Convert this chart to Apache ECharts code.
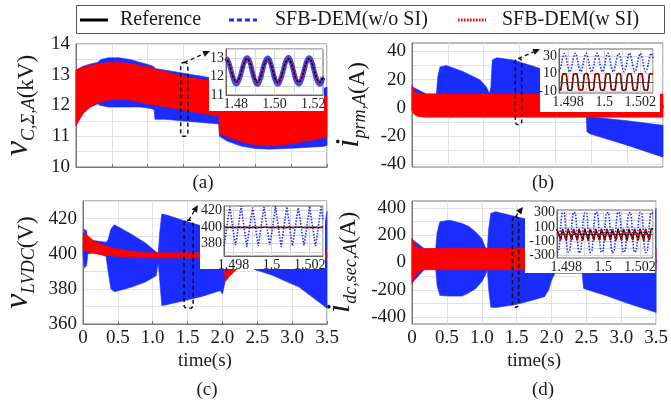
<!DOCTYPE html>
<html>
<head>
<meta charset="utf-8">
<script src="https://cdn.jsdelivr.net/npm/echarts@6/dist/echarts.min.js"></script>
<style>
  html, body { margin: 0; padding: 0; background: #fff; }
  #chart { width: 671px; height: 406px; }
</style>
</head>
<body>
<div id="chart"></div>
<script>
// ---------- series names ----------
const NAME_REF  = 'Reference';
const NAME_NOSI = 'SFB-DEM(w/o SI)';
const NAME_SI   = 'SFB-DEM(w SI)';

// ---------- main panels: envelopes (min / max) of the switching waveforms, time in s ----------
// (a) arm capacitor voltage sum, kV
const tA_si    = [0, 0.05, 0.1, 0.2, 0.3, 0.45, 0.6, 0.75, 1.0, 1.25, 1.5, 1.75, 1.99, 2.0, 2.1, 2.3, 2.5, 2.7, 2.9, 3.1, 3.3, 3.5];
const hiA_si   = [13.15, 13.2, 13.25, 13.3, 13.35, 13.4, 13.4, 13.37, 13.25, 13.1, 12.95, 12.85, 12.75, 12.2, 12.15, 12.15, 12.15, 12.18, 12.2, 12.22, 12.25, 12.3];
const loA_si   = [11.35, 11.55, 11.75, 11.95, 12.08, 12.17, 12.2, 12.18, 12.05, 11.95, 11.85, 11.75, 11.65, 11.1, 10.98, 10.82, 10.72, 10.68, 10.72, 10.8, 10.88, 10.97];
const tA_nosi  = [0, 0.05, 0.1, 0.2, 0.3, 0.35, 0.45, 0.6, 0.75, 0.9, 1.05, 1.09, 1.1, 1.25, 1.5, 1.75, 1.99, 2.0, 2.1, 2.3, 2.5, 2.7, 2.9, 3.1, 3.3, 3.45, 3.5];
const hiA_nosi = [13.15, 13.22, 13.28, 13.35, 13.4, 13.5, 13.55, 13.55, 13.5, 13.4, 13.3, 13.25, 13.2, 13.15, 13.05, 12.95, 12.85, 12.3, 12.3, 12.3, 12.3, 12.35, 12.4, 12.45, 12.5, 12.55, 12.6];
const loA_nosi = [11.35, 11.55, 11.75, 11.95, 12.05, 12.0, 11.95, 11.95, 11.95, 11.95, 11.9, 11.85, 11.55, 11.55, 11.5, 11.45, 11.4, 11.0, 10.85, 10.68, 10.6, 10.58, 10.6, 10.62, 10.65, 10.67, 10.7];

// (b) primary current, A
const tB_si    = [0, 0.02, 0.05, 0.1, 0.2, 3.5];
const hiB_si   = [16, 13, 11, 10, 9.8, 9.8];
const loB_si   = [-2, -4, -5.5, -6.3, -6.7, -6.7];
const tB_nosi  = [0, 0.2, 0.34, 0.36, 0.39, 0.48, 0.71, 0.95, 1.04, 1.08, 1.1, 1.12, 1.18, 1.41, 1.78, 1.99, 2.0, 2.43, 2.44, 2.48, 3.0, 3.5];
const hiB_nosi = [15, 9.8, 9.8, 22, 29, 30, 25.7, 19.8, 14.6, 10, 15, 34, 35.5, 34, 28, 25, 9.5, 9.5, -6, -6.3, -9.2, -12.4];
const loB_nosi = [-2, -6, -6, -6, -6, -6, -6, -6, -6, -6, -6, -6, -6, -6, -6, -6, -6, -6, -17, -18.4, -26.5, -35];

// (c) LVDC voltage, V
const tC_si    = [0, 0.03, 0.08, 0.15, 0.25, 0.4, 0.6, 0.8, 1.0, 1.99, 2.0, 2.03, 2.05, 2.1, 2.2, 2.35, 2.5, 2.7, 3.5];
const hiC_si   = [412, 411, 410, 407.5, 405.5, 403.5, 402, 401, 400.5, 400.5, 400, 392, 389, 391, 394, 398, 400, 400.5, 400.5];
const loC_si   = [402, 401.5, 401, 400.3, 399.5, 398.8, 398.2, 397.7, 397.5, 397.5, 395, 388, 384.5, 387, 391, 395, 397, 397.5, 397.5];
const tC_nosi  = [0, 0.02, 0.05, 0.07, 0.15, 0.25, 0.33, 0.36, 0.4, 0.45, 0.7, 0.9, 1.05, 1.08, 1.1, 1.13, 1.2, 1.45, 1.73, 1.97, 2.0, 2.05, 2.2, 2.44, 2.46, 2.7, 3.1, 3.45, 3.5];
const hiC_nosi = [404, 414, 413, 407.5, 407.5, 407, 406.5, 408, 414, 416.5, 411, 406, 401, 400.5, 412, 422.6, 422, 418.8, 415.5, 412.5, 400, 399, 400, 400, 397, 400, 406, 412, 424];
const loC_nosi = [400, 392, 393, 400, 400.5, 399.5, 398.5, 390, 380, 378.3, 381, 384, 387.5, 395, 385, 370.5, 371, 373.3, 376, 379, 377, 386, 392, 393, 391, 388, 381, 370.5, 369];

// (d) secondary dc current, A
const tD_si    = [0, 0.03, 0.07, 0.12, 0.18, 3.5];
const hiD_si   = [180, 140, 115, 105, 102, 102];
const loD_si   = [-160, -120, -80, -60, -53, -53];
const tD_nosi  = [0, 0.18, 0.34, 0.36, 0.4, 0.54, 0.72, 0.82, 0.91, 1.0, 1.05, 1.08, 1.1, 1.13, 1.2, 1.47, 1.66, 1.9, 1.96, 2.0, 2.05, 2.44, 2.46, 2.8, 3.1, 3.5];
const hiD_nosi = [170, 100, 100, 220, 298, 310, 285, 261, 225, 175, 114, 100, 250, 360, 372, 338, 315, 280, 260, 150, 100, 100, 200, 260, 320, 396];
const loD_nosi = [-150, -50, -50, -170, -241, -246, -246, -220, -192, -140, -94, -55, -200, -327, -330, -310, -285, -250, -200, -130, -78, -78, -190, -245, -300, -365];

// ---------- zoomed windows around t = 1.5 s ----------
const tInA = [1.4750, 1.4763, 1.4777, 1.4790, 1.4803, 1.4817, 1.4831, 1.4845, 1.4859, 1.4872, 1.4885, 1.4898, 1.4912,
              1.4925, 1.4938, 1.4951, 1.4965, 1.4978, 1.4991, 1.5004, 1.5018, 1.5031, 1.5045, 1.5058, 1.5072, 1.5085,
              1.5098, 1.5111, 1.5125, 1.5138, 1.5152, 1.5165, 1.5179, 1.5192, 1.5205, 1.5218, 1.5232, 1.5250];
const siInA   = [12.96, 12.78, 12.33, 11.88, 11.69, 11.87, 12.32, 12.77, 12.97, 12.79, 12.34, 11.89, 11.68, 11.88, 12.33, 12.78,
                 12.96, 12.78, 12.32, 11.87, 11.67, 11.88, 12.34, 12.79, 12.97, 12.77, 12.33, 11.88, 11.69, 11.88, 12.33, 12.78,
                 12.98, 12.78, 12.33, 11.88, 11.68, 12.0];
const nosiInA = [13.02, 12.8, 12.3, 11.82, 11.6, 11.83, 12.31, 12.81, 13.03, 12.82, 12.3, 11.81, 11.58, 11.82, 12.32, 12.8,
                 13.01, 12.79, 12.29, 11.8, 11.59, 11.84, 12.33, 12.82, 13.04, 12.8, 12.3, 11.82, 11.6, 11.81, 12.31, 12.81,
                 13.02, 12.8, 12.3, 11.83, 11.59, 11.95];
const refInA  = siInA;

const tIn = [1.4975, 1.4976, 1.4977, 1.4978, 1.4979, 1.4980, 1.4981, 1.4982, 1.4983, 1.4984, 1.4985, 1.4986, 1.4987, 1.4988,
             1.4989, 1.4990, 1.4991, 1.4992, 1.4993, 1.4994, 1.4995, 1.4996, 1.4997, 1.4998, 1.4999, 1.5000, 1.5001, 1.5002,
             1.5003, 1.5004, 1.5005, 1.5006, 1.5007, 1.5008, 1.5009, 1.5010, 1.5011, 1.5012, 1.5013, 1.5014, 1.5015, 1.5016,
             1.5017, 1.5018, 1.5019, 1.5020, 1.5021, 1.5022, 1.5023, 1.5024, 1.5025, 1.5026, 1.5027];
const nosiInB = [12.3, 17.5, 27.6, 32.8, 27.9, 17.1, 12.0, 17.4, 27.8, 33.2, 27.5, 17.2, 12.4, 17.6, 27.7, 32.9, 27.8, 17.3,
                 11.9, 17.2, 27.5, 33.1, 27.9, 17.5, 12.2, 17.3, 27.9, 33.0, 27.6, 17.1, 12.1, 17.6, 27.6, 32.7, 27.8, 17.4,
                 12.3, 17.2, 27.8, 33.3, 27.6, 17.3, 12.0, 17.5, 27.7, 32.9, 27.9, 17.2, 12.2, 17.4, 27.6, 33.0, 27.8];
const siInB   = [-8.8, -8.5, 8.8, 10.0, 9.2, -8.2, -8.9, -8.4, 8.9, 9.9, 9.3, -8.1, -8.7, -8.6, 8.7, 10.1, 9.1, -8.3,
                 -8.9, -8.4, 8.8, 10.0, 9.2, -8.2, -8.8, -8.5, 8.9, 9.9, 9.3, -8.2, -8.7, -8.5, 8.8, 10.1, 9.2, -8.3,
                 -8.9, -8.4, 8.7, 10.0, 9.1, -8.1, -8.8, -8.6, 8.9, 9.9, 9.3, -8.2, -8.8, -8.5, 8.8, 10.0, 9.2];
const refInB  = siInB;
const nosiInC = [377, 392, 408, 424, 409, 393, 378, 391, 409, 425, 408, 392, 376, 393, 408, 423, 409, 392,
                 377, 392, 409, 424, 408, 393, 378, 391, 408, 425, 409, 392, 376, 392, 409, 424, 408, 391,
                 377, 393, 408, 423, 409, 392, 378, 392, 409, 425, 408, 393, 377, 391, 408, 424, 409];
const siInC   = [399.4, 400.7, 399.3, 400.6, 399.5, 400.8, 399.3, 400.6, 399.4, 400.7, 399.2, 400.6, 399.5, 400.7, 399.3, 400.8,
                 399.4, 400.6, 399.3, 400.7, 399.5, 400.6, 399.4, 400.8, 399.2, 400.6, 399.4, 400.7, 399.3, 400.7, 399.5, 400.6,
                 399.3, 400.8, 399.4, 400.6, 399.3, 400.7, 399.4, 400.6, 399.5, 400.7, 399.3, 400.8, 399.4, 400.6, 399.2, 400.7,
                 399.4, 400.6, 399.3, 400.7, 399.5];
const refInC  = siInC;
const nosiInD = [-262, -228, 118, 302, 296, -58, -255, -235, 125, 305, 290, -65, -268, -222, 112, 298, 299, -50,
                 -260, -230, 120, 303, 294, -60, -258, -226, 116, 300, 297, -55, -265, -232, 122, 306, 292, -62,
                 -261, -227, 119, 301, 295, -57, -256, -233, 114, 304, 291, -63, -263, -229, 121, 302, 296];
const siInD   = [72, 74, -88, 71, 75, -92, 73, 74, -85, 72, 76, -90, 71, 74, -87, 73, 75, -91, 72, 74, -86, 71, 76, -89,
                 73, 74, -92, 72, 75, -86, 71, 74, -90, 73, 76, -88, 72, 74, -91, 71, 75, -85, 73, 74, -89, 72, 76, -92,
                 71, 74, -87, 72, 75];
const refInD  = siInD;

// zoom markers drawn on the main panels: [t from, t to, value from, value to]
const zoomBoxes = [
  [1.46, 1.56, 11.0, 13.4],
  [1.44, 1.53, -12, 35],
  [1.45, 1.58, 369, 419],
  [1.44, 1.53, -327, 335]
];

// ---------- styling ----------
const SERIF = 'Liberation Serif';
const BLUE = '#1a2cff';
const RED = '#ff0000';
const GRID_C = '#e2e2e2';
const INSET_GRID_C = '#d8d8d8';
const NONE = 'rgba(0,0,0,0)';
const TXT = '#1a1a1a';

const chart = echarts.init(document.getElementById('chart'));

// filled band between a lower and an upper envelope
function band(name, idx, t, lo, hi, color, z) {
  return {
    type: 'custom', name: name, xAxisIndex: idx, yAxisIndex: idx, z: z,
    silent: true, animation: false,
    itemStyle: { color: color },
    data: t.map((x, i) => [x, lo[i], hi[i]]),
    encode: { x: 0, y: [1, 2] },
    renderItem: function (params, api) {
      if (params.dataIndex !== 0) return null;
      const pts = [];
      for (let i = 0; i < t.length; i++) pts.push(api.coord([t[i], hi[i]]));
      for (let i = t.length - 1; i >= 0; i--) pts.push(api.coord([t[i], lo[i]]));
      return {
        type: 'polygon',
        shape: { points: echarts.graphic.clipPointsByRect(pts, params.coordSys) },
        style: { fill: color, stroke: color, lineWidth: 0.6 }
      };
    }
  };
}

function insetLine(name, idx, t, v, style, z, smooth) {
  return {
    type: 'line', name: name, xAxisIndex: idx, yAxisIndex: idx, z: z,
    data: t.map((x, i) => [x, v[i]]),
    symbol: 'none', showSymbol: false, silent: true, animation: false,
    smooth: smooth, lineStyle: style, itemStyle: { color: style.color }
  };
}

const nameRich = {
  v: { fontFamily: SERIF, fontStyle: 'italic', fontSize: 34, lineHeight: 40, verticalAlign: 'middle', color: TXT },
  s: { fontFamily: SERIF, fontStyle: 'italic', fontSize: 18, lineHeight: 18, verticalAlign: 'bottom', color: TXT },
  u: { fontFamily: SERIF, fontSize: 23, lineHeight: 34, verticalAlign: 'bottom', color: TXT }
};

function mainX(idx, showLabels) {
  return {
    type: 'value', gridIndex: idx, min: 0, max: 3.5, interval: 0.5,
    axisLine: { lineStyle: { color: '#777' } },
    axisTick: { show: true, inside: true, length: 3, lineStyle: { color: '#777' } },
    axisLabel: {
      show: showLabels, fontFamily: SERIF, fontSize: 19, color: TXT, margin: 5,
      formatter: v => (v === 0 ? '0' : v.toFixed(1))
    },
    splitLine: { show: true, lineStyle: { color: GRID_C, width: 1 } },
    name: showLabels ? 'time(s)' : '', nameLocation: 'middle', nameGap: 28,
    nameTextStyle: { fontFamily: SERIF, fontSize: 19, color: TXT }
  };
}

function mainY(idx, min, max, interval, labelFn, lineColors, name, gap) {
  return {
    type: 'value', gridIndex: idx, min: min, max: max, interval: interval,
    axisLine: { lineStyle: { color: '#777' } },
    axisTick: { show: false },
    axisLabel: { fontFamily: SERIF, fontSize: 19, color: TXT, margin: 6, formatter: labelFn },
    splitLine: { show: true, lineStyle: { color: lineColors, width: 1 } },
    name: name, nameLocation: 'middle', nameRotate: 90, nameGap: gap,
    nameTextStyle: { rich: nameRich }
  };
}

function insetX(idx, min, max, interval, labelFn) {
  return {
    type: 'value', gridIndex: idx, min: min, max: max, interval: interval, z: 10,
    axisLine: { lineStyle: { color: '#666' } },
    axisTick: { show: false },
    axisLabel: { fontFamily: SERIF, fontSize: 14, color: TXT, margin: 2, formatter: labelFn },
    splitLine: { show: true, lineStyle: { color: [NONE, INSET_GRID_C] } }
  };
}

function insetY(idx, min, max, interval, labelFn, lineColors) {
  return {
    type: 'value', gridIndex: idx, min: min, max: max, interval: interval, z: 10,
    axisLine: { lineStyle: { color: '#666' } },
    axisTick: { show: false },
    axisLabel: { fontFamily: SERIF, fontSize: 14, color: TXT, margin: 2, formatter: labelFn },
    splitLine: { show: true, lineStyle: { color: lineColors } }
  };
}

const fmtMs = v => { const r = Math.round(v * 10000); return r % 20 === 0 ? String(r / 10000) : ''; };

// dash / dot pattern icons for the legend
function dashIcon(on, off, w, h) {
  let p = 'path://';
  for (let x = 0; x < w; x += on + off) {
    const e = Math.min(x + on, w);
    p += 'M' + x + ',0H' + e + 'V' + h + 'H' + x + 'Z';
  }
  return p;
}

function legendItem(name, left, icon, color, pad) {
  return {
    data: [{ name: name, icon: icon, itemStyle: { color: color } }],
    left: left, top: 10, padding: 0, itemWidth: 28, itemHeight: 3,
    selectedMode: false,
    textStyle: { fontFamily: SERIF, fontSize: 20, color: TXT, padding: [0, 0, 0, pad] }
  };
}

const option = {
  animation: false,
  textStyle: { fontFamily: SERIF },
  legend: [
    legendItem(NAME_REF, 80, dashIcon(28, 0, 28, 3), '#000', 7),
    legendItem(NAME_NOSI, 229, dashIcon(5, 3, 28, 3), BLUE, 13),
    legendItem(NAME_SI, 458, dashIcon(1.6, 1.4, 28, 3), RED, 11)
  ],
  grid: [
    { left: 76, top: 44, width: 251, height: 123, show: true, borderColor: '#777', borderWidth: 1 },
    { left: 412, top: 43, width: 251, height: 124, show: true, borderColor: '#777', borderWidth: 1 },
    { left: 76, top: 201, width: 251, height: 123, show: true, borderColor: '#777', borderWidth: 1 },
    { left: 412, top: 201, width: 250, height: 123, show: true, borderColor: '#777', borderWidth: 1 },
    { left: 226, top: 49, width: 97, height: 46, show: true, backgroundColor: '#fff', borderColor: '#666', borderWidth: 1, z: 10 },
    { left: 559, top: 49, width: 94, height: 44, show: true, backgroundColor: '#fff', borderColor: '#666', borderWidth: 1, z: 10 },
    { left: 224, top: 206, width: 99, height: 50, show: true, backgroundColor: '#fff', borderColor: '#666', borderWidth: 1, z: 10 },
    { left: 557, top: 210, width: 96, height: 48, show: true, backgroundColor: '#fff', borderColor: '#666', borderWidth: 1, z: 10 }
  ],
  xAxis: [
    mainX(0, false), mainX(1, false), mainX(2, true), mainX(3, true),
    insetX(4, 1.475, 1.525, 0.005, v => (Math.round(v * 1000) % 20 === 0 ? v.toFixed(2) : '')),
    insetX(5, 1.4975, 1.5027, 0.0005, fmtMs),
    insetX(6, 1.4975, 1.5027, 0.0005, fmtMs),
    insetX(7, 1.4975, 1.5027, 0.0005, fmtMs)
  ],
  yAxis: [
    mainY(0, 10, 14, 0.5, v => (Number.isInteger(v) ? String(v) : ''), GRID_C,
          '{v|v}{s|C,Σ,A}{u|(kV)}', 38),
    mainY(1, -42, 46, 2, v => (v % 20 === 0 ? String(v) : ''), [NONE, GRID_C, NONE, NONE, NONE],
          '{v|i}{s|prm,A}{u|(A)}', 43),
    mainY(2, 360, 430, 10, v => (v % 20 === 0 && v < 430 ? String(v) : ''), GRID_C,
          '{v|v}{s|LVDC}{u|(V)}', 45),
    mainY(3, -450, 450, 50, v => (v % 200 === 0 ? String(v) : ''), [NONE, GRID_C],
          '{v|i}{s|dc,sec,A}{u|(A)}', 52),
    insetY(4, 11, 13.5, 0.5, v => (Number.isInteger(v) ? String(v) : ''), INSET_GRID_C),
    insetY(5, -12, 38, 2, v => ((v + 10) % 20 === 0 ? String(v) : ''), [NONE, INSET_GRID_C, NONE, NONE, NONE]),
    insetY(6, 365, 425, 5, v => (v % 20 === 0 && v >= 380 && v <= 420 ? String(v) : ''), [NONE, INSET_GRID_C]),
    insetY(7, -340, 340, 20, v => ((v - 100) % 200 === 0 ? String(v) : ''), [NONE, NONE, INSET_GRID_C, NONE, NONE])
  ],
  series: [
    // zoomed windows
    insetLine(NAME_NOSI, 4, tInA, nosiInA, { color: BLUE, width: 5, opacity: 0.85 }, 11, 0.5),
    insetLine(NAME_REF, 4, tInA, refInA, { color: '#000', width: 1.6 }, 12, 0.5),
    insetLine(NAME_SI, 4, tInA, siInA, { color: RED, width: 1.6, type: [2, 2] }, 13, 0.5),

    insetLine(NAME_NOSI, 5, tIn, nosiInB, { color: BLUE, width: 1.6, type: [1.5, 1.5] }, 11, 0.45),
    insetLine(NAME_REF, 5, tIn, refInB, { color: '#000', width: 1.5 }, 12, 0.2),
    insetLine(NAME_SI, 5, tIn, siInB, { color: RED, width: 1.5, type: [2, 2] }, 13, 0.2),

    insetLine(NAME_NOSI, 6, tIn, nosiInC, { color: BLUE, width: 1.6, type: [1.5, 1.5] }, 11, false),
    insetLine(NAME_REF, 6, tIn, refInC, { color: '#000', width: 1.5 }, 12, false),
    insetLine(NAME_SI, 6, tIn, siInC, { color: RED, width: 1.5, type: [2, 2] }, 13, false),

    insetLine(NAME_NOSI, 7, tIn, nosiInD, { color: BLUE, width: 1.6, type: [1.5, 1.5] }, 11, 0.3),
    insetLine(NAME_REF, 7, tIn, refInD, { color: '#000', width: 1.5 }, 12, false),
    insetLine(NAME_SI, 7, tIn, siInD, { color: RED, width: 1.5, type: [2, 2] }, 13, false),

    // full 0 - 3.5 s runs
    band(NAME_NOSI, 0, tA_nosi, loA_nosi, hiA_nosi, BLUE, 2),
    band(NAME_SI, 0, tA_si, loA_si, hiA_si, RED, 3),
    band(NAME_NOSI, 1, tB_nosi, loB_nosi, hiB_nosi, BLUE, 2),
    band(NAME_SI, 1, tB_si, loB_si, hiB_si, RED, 3),
    band(NAME_NOSI, 2, tC_nosi, loC_nosi, hiC_nosi, BLUE, 2),
    band(NAME_SI, 2, tC_si, loC_si, hiC_si, RED, 3),
    band(NAME_NOSI, 3, tD_nosi, loD_nosi, hiD_nosi, BLUE, 2),
    band(NAME_SI, 3, tD_si, loD_si, hiD_si, RED, 3)
  ]
};

chart.setOption(option);

// ---------- overlays: legend frame, captions, inset backing, zoom markers ----------
const coverPad = [[17, 5, 1, 16], [19, 6, 7, 19], [24, 6, 2, 13], [32, 8, 5, 15]];   // left, top, right, bottom
const arrowOffset = [[-16, 2], [-19, 0], [-26, -1], [-34, -3]];
const insetExtent = [[1.475, 13.5], [1.4975, 38], [1.4975, 425], [1.4975, 340]];
const insetExtentEnd = [[1.525, 11], [1.5027, -12], [1.5027, 365], [1.5027, -340]];
const mainExtent = [[0, 14, 3.5, 10], [0, 46, 3.5, -42], [0, 430, 3.5, 360], [0, 450, 3.5, -450]];

const graphics = [
  { type: 'rect', shape: { x: 76.5, y: 5.5, width: 588, height: 28 }, style: { fill: 'none', stroke: '#555', lineWidth: 1 }, z: 1 },
  { type: 'text', x: 203, y: 183, style: { text: '(a)', font: '19px "Liberation Serif"', fill: TXT, textAlign: 'center', textVerticalAlign: 'middle' } },
  { type: 'text', x: 543, y: 183, style: { text: '(b)', font: '19px "Liberation Serif"', fill: TXT, textAlign: 'center', textVerticalAlign: 'middle' } },
  { type: 'text', x: 207, y: 390, style: { text: '(c)', font: '19px "Liberation Serif"', fill: TXT, textAlign: 'center', textVerticalAlign: 'middle' } },
  { type: 'text', x: 543, y: 390, style: { text: '(d)', font: '19px "Liberation Serif"', fill: TXT, textAlign: 'center', textVerticalAlign: 'middle' } }
];

for (let k = 0; k < 4; k++) {
  const mTL = chart.convertToPixel({ gridIndex: k }, [mainExtent[k][0], mainExtent[k][1]]);
  const mBR = chart.convertToPixel({ gridIndex: k }, [mainExtent[k][2], mainExtent[k][3]]);
  const iTL = chart.convertToPixel({ gridIndex: 4 + k }, insetExtent[k]);
  const iBR = chart.convertToPixel({ gridIndex: 4 + k }, insetExtentEnd[k]);
  const p = coverPad[k];
  const x0 = Math.max(iTL[0] - p[0], mTL[0] + 1);
  const y0 = Math.max(iTL[1] - p[1], mTL[1] + 1);
  const x1 = Math.min(iBR[0] + p[2], mBR[0] - 1);
  const y1 = Math.min(iBR[1] + p[3], mBR[1] - 1);
  graphics.push({ type: 'rect', shape: { x: x0, y: y0, width: x1 - x0, height: y1 - y0 }, style: { fill: '#fff' }, z: 8 });

  // dashed marker around the zoomed time window
  const b = zoomBoxes[k];
  const bTL = chart.convertToPixel({ gridIndex: k }, [b[0], b[3]]);
  const bBR = chart.convertToPixel({ gridIndex: k }, [b[1], b[2]]);
  graphics.push({
    type: 'rect', shape: { x: bTL[0], y: bTL[1], width: bBR[0] - bTL[0], height: bBR[1] - bTL[1], r: 3 },
    style: { fill: 'none', stroke: '#111', lineWidth: 1.5, lineDash: [4, 3] }, z: 5
  });

  // dashed arrow from the marker to the zoomed window
  const s = [(bTL[0] + bBR[0]) / 2, bTL[1]];
  const e = [iTL[0] + arrowOffset[k][0], iTL[1] + arrowOffset[k][1]];
  const dx = e[0] - s[0], dy = e[1] - s[1];
  const len = Math.sqrt(dx * dx + dy * dy);
  const ux = dx / len, uy = dy / len;
  const hl = 7, hw = 3.2;
  const base = [e[0] - ux * hl, e[1] - uy * hl];
  graphics.push({
    type: 'line', shape: { x1: s[0], y1: s[1], x2: base[0], y2: base[1] },
    style: { stroke: '#111', lineWidth: 1.3, lineDash: [4, 3] }, z: 9
  });
  graphics.push({
    type: 'polygon',
    shape: { points: [e, [base[0] - uy * hw, base[1] + ux * hw], [base[0] + uy * hw, base[1] - ux * hw]] },
    style: { fill: '#111' }, z: 9
  });
}

chart.setOption({ graphic: graphics });
</script>
</body>
</html>
